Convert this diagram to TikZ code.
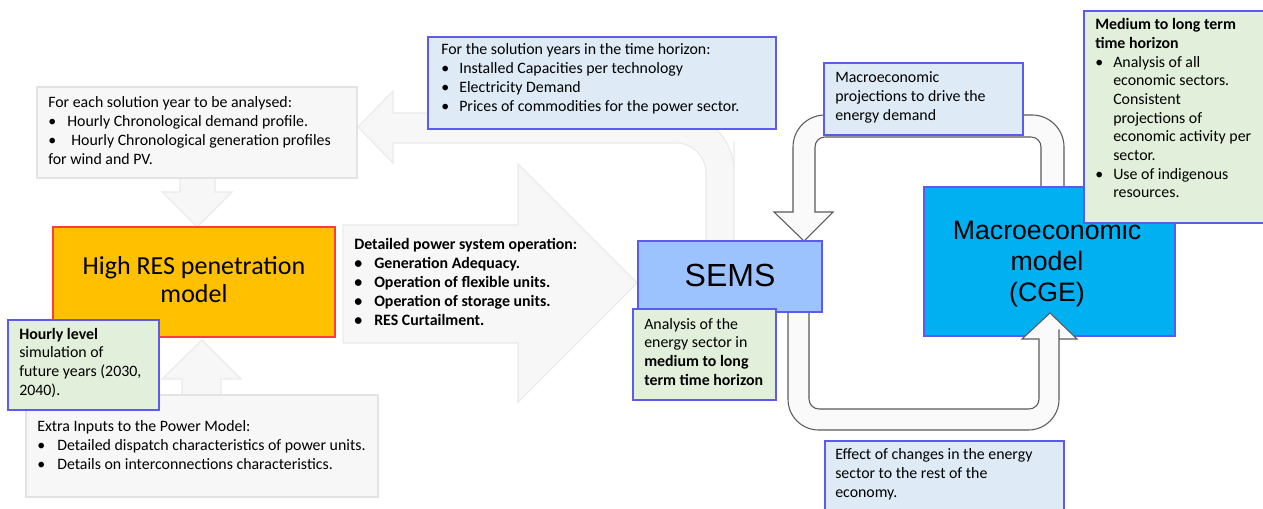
\documentclass[tikz,border=0pt]{standalone}
\usepackage{fontspec}
\setmainfont{Carlito}
\newfontfamily\arialfont{Liberation Sans}
\usetikzlibrary{fit}
\definecolor{boxgray}{HTML}{F7F7F7}
\definecolor{edgegray}{HTML}{E3E3E3}
\definecolor{arrowedge}{HTML}{EAEAEA}
\definecolor{resorange}{HTML}{FFC000}
\definecolor{resred}{HTML}{FF3B3B}
\definecolor{notegreen}{HTML}{E2EFDA}
\definecolor{noteblue}{HTML}{DEEBF7}
\definecolor{edgeblue}{HTML}{5B5BEF}
\definecolor{semsblue}{HTML}{9DC3FF}
\definecolor{cgeblue}{HTML}{00B0F0}
\definecolor{darkedge}{HTML}{5A5A5A}
\newcommand\bul[1][14pt]{\makebox[#1][l]{\textbullet}}

\begin{document}
\begin{tikzpicture}[x=0.75pt,y=-0.75pt,
  box/.style={inner sep=0pt,line width=1pt},
  graybox/.style={box,fill=boxgray,draw=edgegray},
  greenbox/.style={box,fill=notegreen,draw=edgeblue},
  bluebox/.style={box,fill=noteblue,draw=edgeblue},
  grayarrow/.style={fill=boxgray,draw=arrowedge,line width=0.8pt},
  loparrow/.style={fill=boxgray!60!white,draw=darkedge,line width=0.8pt},
  txt/.style={inner sep=0pt,align=left,anchor=base west,font=\fontsize{11.9}{14.25}\selectfont}]
\clip (0,0) rectangle (1263,509);

% light arrows behind the boxes
\draw[grayarrow] (180,170) -- (180,192) -- (162,192) -- (197,227) -- (232,192) -- (215,192) -- (215,170) -- cycle;
\draw[grayarrow] (182,400) -- (182,379) -- (162,379) -- (202,340) -- (241,379) -- (221,379) -- (221,400) -- cycle;
\draw[grayarrow] (343,225) -- (518,225) -- (518,164) -- (637,283) -- (518,402) -- (518,343) -- (343,343) -- cycle;
\draw[grayarrow] (706,246) -- (706,200) [rounded corners=22.5pt] -- (706,143) -- (600,143) [sharp corners] -- (393,143) -- (393,163) -- (358,127) -- (393,91) -- (393,113) -- (600,113) [rounded corners=43.5pt] -- (734,113) -- (734,200) [sharp corners] -- (734,246) -- cycle;

% gray input boxes
\node[graybox,fit={(37,87) (357,178)}] (yearbox) {};
\node[txt] (yeartxt) at (48,165) {For each solution year to be analysed:\\\bul[14.25pt]Hourly Chronological demand profile.\\\bul[17.25pt]Hourly Chronological generation profiles\\for wind and PV.};
\node[graybox,fit={(26,395) (378,497)}] (extrabox) {};
\node[txt] (extratxt) at (37,469) {Extra Inputs to the Power Model:\\\bul[15pt]Detailed dispatch characteristics of power units.\\\bul[15pt]Details on interconnections characteristics.};
\node[txt,font=\fontsize{11.9}{14.25}\selectfont\bfseries] (optxt) at (354,326) {Detailed power system operation:\\\bul[15pt]Generation Adequacy.\\\bul[15pt]Operation of flexible units.\\\bul[15pt]Operation of storage units.\\\bul[15pt]RES Curtailment.};

% power model
\node[box,fill=resorange,draw=resred,line width=0.8pt,fit={(53,227) (335,337)}] (res) {};
\node[inner sep=0pt,anchor=base,align=center,font=\fontsize{19.5}{21}\selectfont] (restxt) at (194,303) {High RES penetration\\model};
\node[greenbox,fit={(8,320) (159,410)}] (hourbox) {};
\node[txt] (hourtxt) at (19,396) {\textbf{Hourly level}\\simulation of\\future years (2030,\\2040).};

\node[bluebox,fit={(428,37) (776,129)}] (solbox) {};
\node[txt] (soltxt) at (441,112) {For the solution years in the time horizon:\\\bul[13.5pt]Installed Capacities per technology\\\bul[13.5pt]Electricity Demand\\\bul[13.5pt]Prices of commodities for the power sector.};

% loop between SEMS and CGE
\draw[loparrow] (1064,195) -- (1064,170) [rounded corners=24pt] -- (1064,115) -- (793,115) -- (793,180) [sharp corners] -- (793,212) -- (774,212) -- (804,241) -- (833,212) -- (815,212) -- (815,180) [rounded corners=7.5pt] -- (815,137) -- (1041,137) -- (1041,170) [sharp corners] -- (1041,195) -- cycle;
\node[bluebox,fit={(824,63) (1023,135)}] (projbox) {};
\node[txt] (projtxt) at (835,121) {Macroeconomic\\projections to drive the\\energy demand};

\node[box,fill=cgeblue,draw=edgeblue,fit={(924,187) (1175,336)}] (cge) {};
\node[inner sep=0pt,anchor=base,align=center,font=\arialfont\fontsize{20}{23.6}\selectfont] (cgetxt) at (1047,302) {Macroeconomic\\model\\(CGE)};
\node[greenbox,fit={(1084,11) (1275,223)}] (horizbox) {};
\node[txt,font=\fontsize{11.9}{14}\selectfont] (horiztxt) at (1095,198) {\textbf{Medium to long term}\\\textbf{time horizon}\\\bul[13.5pt]Analysis of all\\\hspace*{13.5pt}economic sectors.\\\hspace*{13.5pt}Consistent\\\hspace*{13.5pt}projections of\\\hspace*{13.5pt}economic activity per\\\hspace*{13.5pt}sector.\\\bul[13.5pt]Use of indigenous\\\hspace*{13.5pt}resources.};

\draw[loparrow] (788,305) -- (788,330) [rounded corners=23pt] -- (788,430) -- (1059,430) -- (1059,360) [sharp corners] -- (1059,339) -- (1077,339) -- (1050,313) -- (1022,339) -- (1039,339) -- (1039,360) [rounded corners=7.5pt] -- (1039,409) -- (809,409) -- (809,330) [sharp corners] -- (809,305) -- cycle;

\node[box,fill=semsblue,draw=edgeblue,fit={(638,241) (822,312)}] (sems) {};
\node[inner sep=0pt,anchor=base,font=\arialfont\fontsize{24}{28}\selectfont] (semstxt) at (730,287) {SEMS};
\node[greenbox,fit={(633,309) (776,400)}] (anabox) {};
\node[txt] (anatxt) at (644,386) {Analysis of the\\energy sector in\\\textbf{medium to long}\\\textbf{term time horizon}};

\node[bluebox,fit={(825,441) (1064,520)}] (effectbox) {};
\node[txt] (effecttxt) at (835,497) {Effect of changes in the energy\\sector to the rest of the\\economy.};
\end{tikzpicture}
\end{document}
